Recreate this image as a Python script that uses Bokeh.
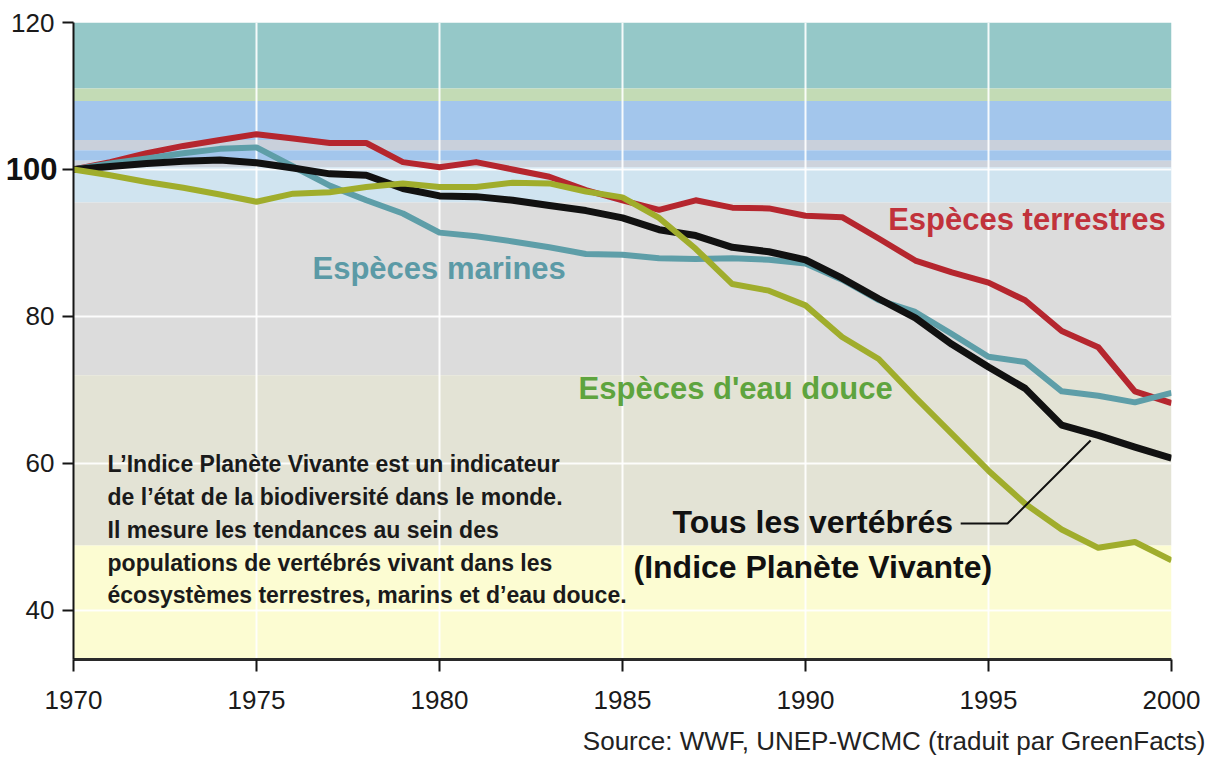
from bokeh.plotting import figure
from bokeh.models import Range1d, FixedTicker, Label, LinearAxis, Title
from bokeh.embed import file_html
from bokeh.resources import INLINE

# ---------------- data ----------------
years = list(range(1970, 2001))
terrestres = [100, 101.0, 102.2, 103.2, 104.0, 104.8, 104.2, 103.6, 103.6, 101.0,
              100.3, 101.0, 100.0, 99.0, 97.2, 95.8, 94.5, 95.8, 94.8, 94.7,
              93.7, 93.5, 90.6, 87.6, 86.0, 84.6, 82.2, 78.0, 75.8, 69.8, 68.2]
marines = [100, 100.8, 101.5, 102.2, 102.8, 103.0, 100.4, 97.8, 95.8, 94.0,
           91.4, 90.9, 90.2, 89.4, 88.5, 88.4, 87.9, 87.8, 87.9, 87.7,
           87.2, 85.0, 82.2, 80.6, 77.6, 74.5, 73.8, 69.8, 69.2, 68.3, 69.6]
eau_douce = [100, 99.2, 98.3, 97.5, 96.6, 95.6, 96.7, 96.9, 97.6, 98.1,
             97.6, 97.6, 98.2, 98.1, 97.0, 96.2, 93.4, 89.2, 84.4, 83.5,
             81.5, 77.2, 74.2, 69.0, 64.0, 59.0, 54.5, 51.0, 48.5, 49.3, 46.8]
vertebres = [100, 100.4, 100.8, 101.1, 101.3, 100.9, 100.2, 99.4, 99.2, 97.4,
             96.4, 96.3, 95.8, 95.1, 94.4, 93.4, 91.8, 91.0, 89.4, 88.8,
             87.7, 85.2, 82.4, 79.8, 76.2, 73.1, 70.2, 65.2, 63.8, 62.2, 60.7]

x_ticks = [1970, 1975, 1980, 1985, 1990, 1995, 2000]
y_ticks = [40, 60, 80, 100, 120]
y_bold_tick = [100]

series_names = ["Espèces terrestres", "Espèces marines", "Espèces d'eau douce"]
ipv_label = ["Tous les vertébrés", "(Indice Planète Vivante)"]
note_lines = [
    "L’Indice Planète Vivante est un indicateur",
    "de l’état de la biodiversité dans le monde.",
    "Il mesure les tendances au sein des",
    "populations de vertébrés vivant dans les",
    "écosystèmes terrestres, marins et d’eau douce.",
]
source_text = "Source: WWF, UNEP-WCMC (traduit par GreenFacts)"

# background colour bands (decoration)
band_top = [120, 111.0, 109.3, 104.0, 102.6, 101.2, 100.3, 95.5, 72.0, 48.8]
band_bottom = [111.0, 109.3, 104.0, 102.6, 101.2, 100.3, 95.5, 72.0, 48.8, 33.3]
band_color = ["#95c8c8", "#c3dbb5", "#a3c6ec", "#c9d0db", "#a3c6ec", "#cdd3dc",
              "#d0e4f0", "#dcdcdc", "#e3e3d5", "#fcfcd2"]

FONT = "Liberation Sans"
X0, X1, Y0, Y1 = 1970, 2000, 33.3, 120
W, H = 1208, 768
BL, BR, BT, BB = 73, 37, 22, 109

p = figure(width=W, height=H, output_backend="svg", toolbar_location=None,
           x_range=Range1d(X0, X1), y_range=Range1d(Y0, Y1),
           min_border_left=BL, min_border_right=BR, min_border_top=BT,
           min_border_bottom=BB)
p.title = None
p.outline_line_color = None
p.background_fill_color = "white"
p.border_fill_color = "white"

p.quad(left=X0, right=X1, bottom=band_bottom, top=band_top,
       fill_color=band_color, line_color=None, level="image")

# grid
p.xgrid.ticker = FixedTicker(ticks=x_ticks)
p.ygrid.ticker = FixedTicker(ticks=y_ticks)
for g in (p.xgrid, p.ygrid):
    g.grid_line_color = "white"
    g.grid_line_width = 2
    g.grid_line_alpha = 0.9

# axes
p.xaxis.ticker = FixedTicker(ticks=x_ticks)
p.yaxis.ticker = FixedTicker(ticks=y_ticks)
p.yaxis.major_label_overrides = {100: ""}
for ax in (p.xaxis[0], p.yaxis[0]):
    ax.axis_line_color = "#151515"
    ax.axis_line_width = 2
    ax.major_tick_line_color = "#151515"
    ax.major_tick_line_width = 2
    ax.major_tick_in = 0
    ax.minor_tick_line_color = None
    ax.major_label_text_font = FONT
    ax.major_label_text_font_size = "26px"
    ax.major_label_text_color = "#1a1a1a"
p.xaxis.major_tick_out = 12
p.xaxis.major_label_standoff = 19
p.xaxis.axis_line_width = 3
p.xaxis.axis_line_color = "#2a2a2a"
p.yaxis.major_tick_out = 11
p.yaxis.major_label_standoff = 8

# second (outer) left axis carrying only the bold "100" label
bold_axis = LinearAxis(ticker=FixedTicker(ticks=y_bold_tick),
                       axis_line_color=None, major_tick_line_color=None,
                       minor_tick_line_color=None, major_tick_out=0,
                       major_tick_in=0,
                       major_label_text_font=FONT,
                       major_label_text_font_size="31px",
                       major_label_text_font_style="bold",
                       major_label_text_color="#111111")
try:
    bold_axis.major_label_standoff = -49
except Exception:
    bold_axis.major_label_standoff = 0
p.add_layout(bold_axis, "left")

# series
p.line(years, terrestres, line_color="#b5262e", line_width=6, line_join="round")
p.line(years, marines, line_color="#5e9ea8", line_width=6, line_join="round")
p.line(years, vertebres, line_color="#111111", line_width=7, line_join="round")
p.line(years, eau_douce, line_color="#a0ad2c", line_width=6, line_join="round")

# series labels
p.add_layout(Label(x=1999.84, y=93.2, text=series_names[0], text_align="right",
                   text_baseline="alphabetic", text_font=FONT, text_font_size="31px",
                   text_font_style="bold", text_color="#c1323b"))
p.add_layout(Label(x=1976.53, y=86.5, text=series_names[1], text_align="left",
                   text_baseline="alphabetic", text_font=FONT, text_font_size="31px",
                   text_font_style="bold", text_color="#5b9aa6"))
p.add_layout(Label(x=1983.8, y=70.15, text=series_names[2], text_align="left",
                   text_baseline="alphabetic", text_font=FONT, text_font_size="31px",
                   text_font_style="bold", text_color="#5ea43e"))

# all-vertebrates label with leader
p.add_layout(Label(x=1990.2, y=51.95, text=ipv_label[0], text_align="center",
                   text_baseline="alphabetic", text_font=FONT, text_font_size="32px",
                   text_font_style="bold", text_color="#111111"))
p.add_layout(Label(x=1990.2, y=45.85, text=ipv_label[1], text_align="center",
                   text_baseline="alphabetic", text_font=FONT, text_font_size="32px",
                   text_font_style="bold", text_color="#111111"))
p.line([1994.24, 1995.52, 1997.79], [51.81, 51.81, 63.11], line_color="#111111",
       line_width=2)

# explanatory note
for i, t in enumerate(note_lines):
    p.add_layout(Label(x=1970.93, y=59.85, y_offset=-32.7 * i, text=t,
                       text_align="left", text_baseline="alphabetic",
                       text_font=FONT, text_font_size="23px",
                       text_font_style="bold", text_color="#1a1a1a"))

# source line below the axis
p.add_layout(Title(text=source_text, align="right", offset=-34, standoff=24,
                   text_font=FONT, text_font_size="26px",
                   text_font_style="normal", text_color="#222222"), "below")

open("out.html", "w").write(file_html(p, INLINE))
